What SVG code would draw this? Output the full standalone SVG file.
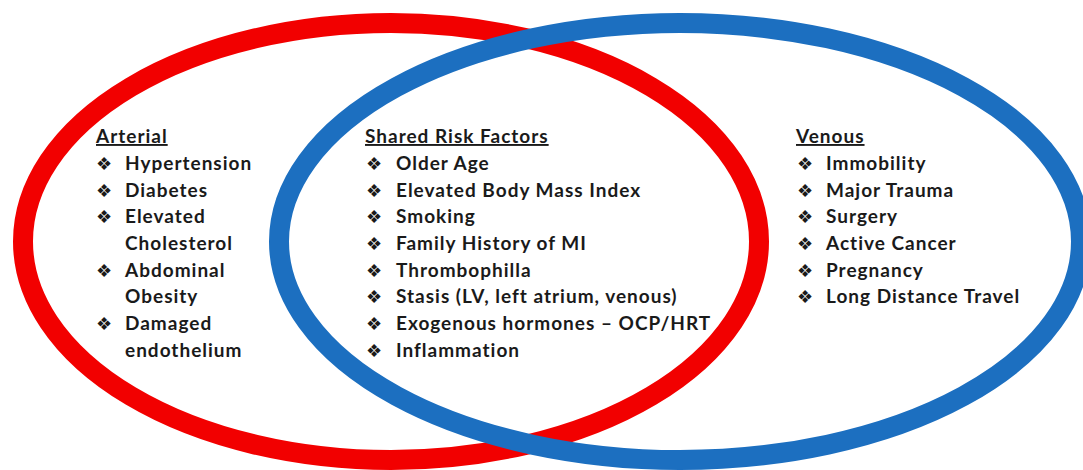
<svg xmlns="http://www.w3.org/2000/svg" width="1083" height="470" viewBox="0 0 1083 470">
<style>
.ring{fill:none;stroke-width:20}
.h{font-family:Lato,"Liberation Sans",sans-serif;font-weight:bold;font-size:19px;letter-spacing:1px;fill:#1a1a1a;text-decoration:underline}
.t{font-family:Lato,"Liberation Sans",sans-serif;font-weight:bold;font-size:19px;letter-spacing:1px;fill:#1a1a1a}
.b{font-family:"DejaVu Sans",sans-serif;font-size:18px;fill:#1a1a1a}
</style>
<rect width="1083" height="470" fill="#ffffff"/>
<g id="connectors"></g>
<g id="arterial-ring"><ellipse class="ring" cx="391" cy="241.5" rx="368" ry="218.5" stroke="#f20000"/></g>
<g id="venous-ring"><ellipse class="ring" cx="680" cy="241.5" rx="401" ry="218.5" stroke="#1c6fc0"/></g>
<g id="arterial">
<text class="h" x="96" y="143">Arterial</text>
<text class="b" x="96" y="170">❖</text><text class="t" x="125" y="170">Hypertension</text>
<text class="b" x="96" y="197">❖</text><text class="t" x="125" y="197">Diabetes</text>
<text class="b" x="96" y="223">❖</text><text class="t" x="125" y="223">Elevated</text>
<text class="t" x="125" y="250">Cholesterol</text>
<text class="b" x="96" y="277">❖</text><text class="t" x="125" y="277">Abdominal</text>
<text class="t" x="125" y="303">Obesity</text>
<text class="b" x="96" y="330">❖</text><text class="t" x="125" y="330">Damaged</text>
<text class="t" x="125" y="357">endothelium</text>
</g>
<g id="shared">
<text class="h" x="365" y="143">Shared Risk Factors</text>
<text class="b" x="366" y="170">❖</text><text class="t" x="396" y="170">Older Age</text>
<text class="b" x="366" y="197">❖</text><text class="t" x="396" y="197">Elevated Body Mass Index</text>
<text class="b" x="366" y="223">❖</text><text class="t" x="396" y="223">Smoking</text>
<text class="b" x="366" y="250">❖</text><text class="t" x="396" y="250">Family History of MI</text>
<text class="b" x="366" y="277">❖</text><text class="t" x="396" y="277">Thrombophilla</text>
<text class="b" x="366" y="303">❖</text><text class="t" x="396" y="303">Stasis (LV, left atrium, venous)</text>
<text class="b" x="366" y="330">❖</text><text class="t" x="396" y="330">Exogenous hormones – OCP/HRT</text>
<text class="b" x="366" y="357">❖</text><text class="t" x="396" y="357">Inflammation</text>
</g>
<g id="venous">
<text class="h" x="796" y="143">Venous</text>
<text class="b" x="797" y="170">❖</text><text class="t" x="826" y="170">Immobility</text>
<text class="b" x="797" y="197">❖</text><text class="t" x="826" y="197">Major Trauma</text>
<text class="b" x="797" y="223">❖</text><text class="t" x="826" y="223">Surgery</text>
<text class="b" x="797" y="250">❖</text><text class="t" x="826" y="250">Active Cancer</text>
<text class="b" x="797" y="277">❖</text><text class="t" x="826" y="277">Pregnancy</text>
<text class="b" x="797" y="303">❖</text><text class="t" x="826" y="303">Long Distance Travel</text>
</g>
</svg>
